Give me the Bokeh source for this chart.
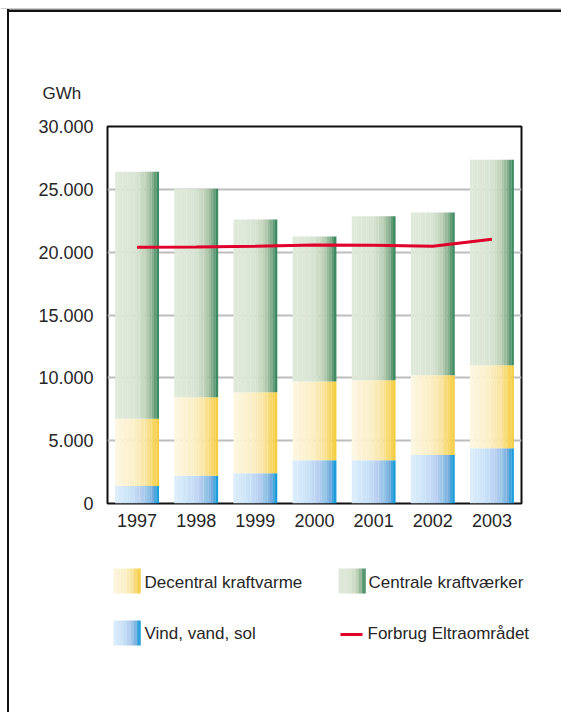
import numpy as np
from bokeh.plotting import figure
from bokeh.layouts import column, row
from bokeh.models import FixedTicker, Range1d, Spacer
from bokeh.core.properties import value
from bokeh.embed import file_html
from bokeh.resources import INLINE

# Elproduktion i Eltraområdet, GWh
years = ["1997", "1998", "1999", "2000", "2001", "2002", "2003"]
vind_vand_sol = [1400, 2200, 2400, 3450, 3450, 3850, 4400]
decentral_kraftvarme = [5350, 6250, 6450, 6250, 6350, 6350, 6600]
centrale_kraftvaerker = [19650, 16600, 13750, 11550, 13050, 12950, 16350]
forbrug = [20400, 20420, 20470, 20580, 20550, 20470, 21030]

y_ticks = [0, 5000, 10000, 15000, 20000, 25000, 30000]
y_tick_labels = ["0", "5.000", "10.000", "15.000", "20.000", "25.000", "30.000"]

legend_labels = ["Decentral kraftvarme", "Centrale kraftværker",
                 "Vind, vand, sol", "Forbrug Eltraområdet"]
unit_label = "GWh"

FONT = "Liberation Sans"
TEXT = "#262626"
RED = "#e0002b"
BORDER = "#111111"

# colour stops (position across the column, colour) for the shaded columns
BLUE = [(0.0, "#ddeefc"), (0.4, "#c6dff6"), (0.6, "#b6cdf0"), (0.75, "#8fc2e4"),
        (0.88, "#72a6dc"), (0.94, "#2aa2dc"), (1.0, "#0e98d6")]
YELLOW = [(0.0, "#fdf6e2"), (0.45, "#fbefc6"), (0.7, "#f9e4a0"), (0.88, "#f6d660"),
          (1.0, "#f5cc3e")]
GREEN = [(0.0, "#e0eadc"), (0.5, "#d8e4d2"), (0.72, "#bccfb5"), (0.86, "#86ae8e"),
         (1.0, "#2c8256")]


def hex2rgb(h):
    h = h.lstrip("#")
    return np.array([int(h[i:i + 2], 16) for i in (0, 2, 4)], dtype=float)


def shade(stops, t):
    for (t0, c0), (t1, c1) in zip(stops[:-1], stops[1:]):
        if t <= t1:
            f = (t - t0) / (t1 - t0) if t1 > t0 else 0.0
            c = hex2rgb(c0) * (1 - f) + hex2rgb(c1) * f
            return "#%02x%02x%02x" % tuple(int(round(v)) for v in c)
    return stops[-1][1]


def blank(width, height):
    """A transparent drawing surface whose data units are pixels, y downwards."""
    f = figure(width=width, height=height, x_range=Range1d(0, width),
               y_range=Range1d(height, 0), x_axis_type=None, y_axis_type=None,
               output_backend="svg", toolbar_location=None, min_border=0)
    f.outline_line_color = None
    f.background_fill_color = None
    f.border_fill_color = None
    f.grid.visible = False
    return f


TOP_H, CHART_H, LEG_H, LEFT_W = 110, 430, 172, 12
W, H = 561, 712

# --- top strip: page border and unit ---
top = blank(W, TOP_H)
top.quad(left=0, right=W, top=7.5, bottom=8.5, fill_color="#cfcfcf", line_color=None)
top.quad(left=7, right=W, top=9, bottom=11.5, fill_color=BORDER, line_color=None)
top.text(x=[42], y=[93], text=[unit_label], text_font=value(FONT),
         text_font_size="17px", text_color=TEXT, text_baseline="middle")

left = Spacer(width=LEFT_W, height=CHART_H)

# --- the chart ---
N_STRIPS = 18
BAR_W = 0.74
cw = W - LEFT_W
p = figure(width=cw, height=CHART_H, x_range=(-0.5, 6.5), y_range=(0, 30000),
           output_backend="svg", toolbar_location=None,
           min_border_left=107 - LEFT_W, min_border_right=40,
           min_border_top=126 - TOP_H, min_border_bottom=TOP_H + CHART_H - 503)
p.background_fill_color = "white"
p.border_fill_color = None
p.outline_line_color = BORDER
p.outline_line_width = 2

p.xgrid.grid_line_color = None
p.ygrid.grid_line_color = "#bdbdbd"
p.ygrid.grid_line_width = 2
p.ygrid.ticker = FixedTicker(ticks=y_ticks)

p.yaxis.ticker = FixedTicker(ticks=y_ticks)
p.yaxis.major_label_overrides = dict(zip(y_ticks, y_tick_labels))
p.xaxis.ticker = FixedTicker(ticks=list(range(len(years))))
p.xaxis.major_label_overrides = dict(zip(range(len(years)), years))
for ax in (p.xaxis, p.yaxis):
    ax.axis_line_color = None
    ax.major_tick_line_color = None
    ax.minor_tick_line_color = None
    ax.major_label_text_font = FONT
    ax.major_label_text_font_size = "18px"
    ax.major_label_text_color = TEXT
p.yaxis.major_label_standoff = 8
p.xaxis.major_label_standoff = 4

# stacked columns, each drawn as narrow vertical strips to give the shading
idx = np.arange(len(years))
bottom = np.zeros(len(years))
for vals, stops in ((vind_vand_sol, BLUE), (decentral_kraftvarme, YELLOW),
                    (centrale_kraftvaerker, GREEN)):
    top_v = bottom + np.array(vals, dtype=float)
    xs, bs, ts, cs = [], [], [], []
    for k in range(N_STRIPS):
        off = -BAR_W / 2 + (k + 0.5) * BAR_W / N_STRIPS
        col = shade(stops, (k + 0.5) / N_STRIPS)
        xs += list(idx + off)
        bs += list(bottom)
        ts += list(top_v)
        cs += [col] * len(years)
    p.vbar(x=xs, bottom=bs, top=ts, width=BAR_W / N_STRIPS * 1.05,
           fill_color=cs, line_color=None)
    bottom = top_v

p.line(x=idx, y=forbrug, line_color=RED, line_width=3)

# --- legend strip ---
leg = blank(W, LEG_H)
y0 = TOP_H + CHART_H


def swatch(x0, y_top, w, h, stops, n=8):
    lefts = [x0 + k * w / n for k in range(n)]
    rights = [x0 + (k + 1) * w / n + 0.3 for k in range(n)]
    cols = [shade(stops, (k + 0.5) / n) for k in range(n)]
    leg.quad(left=lefts, right=rights, top=y_top - y0, bottom=y_top + h - y0,
             fill_color=cols, line_color=None)


def legend_text(x, y, txt):
    leg.text(x=[x], y=[y - y0], text=[txt], text_font=value(FONT),
             text_font_size="17px", text_color=TEXT, text_baseline="middle")


swatch(113, 568, 27, 25, YELLOW)
legend_text(144, 582, legend_labels[0])
swatch(338, 568, 27, 25, GREEN)
legend_text(368, 582, legend_labels[1])
swatch(113, 620, 27, 25, BLUE)
legend_text(144, 633, legend_labels[2])
leg.line(x=[340, 362], y=[634 - y0, 634 - y0], line_color=RED, line_width=3)
legend_text(367, 633, legend_labels[3])

# white page with the left page border running from the top rule to the bottom
page_style = {
    "background": "linear-gradient(to right, transparent 7px, #111111 7px, "
                  "#111111 9px, transparent 9px) 0 9px / 100% 100% no-repeat, #ffffff",
}
layout = column(top, row(left, p), leg, styles=page_style)
open("out.html", "w").write(file_html(layout, INLINE))
